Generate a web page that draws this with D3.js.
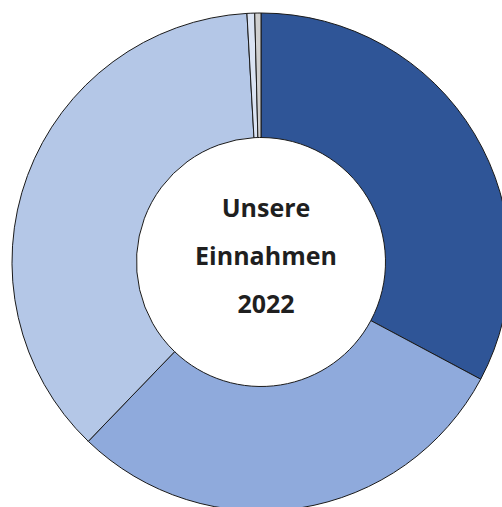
<!DOCTYPE html>
<html>
<head>
<meta charset="utf-8">
<script src="https://cdn.jsdelivr.net/npm/d3@7"></script>
<style>
  body { margin: 0; background: #fff; }
  .slice { stroke: #1a1a1a; stroke-width: 1; }
  .title { font-family: "Open Sans", sans-serif; font-weight: bold; font-size: 25px; fill: #1f1f1f; }
</style>
</head>
<body>
<div id="viz"></div>
<script>
var width = 502;
var height = 507;

// shares of income 2022 (percent), clockwise from 12 o'clock
var categories = ["Anteil 1", "Anteil 2", "Anteil 3", "Anteil 4", "Anteil 5"];
var values = [32.8, 29.4, 36.9, 0.5, 0.4];
var colors = ["#2f5597", "#8faadc", "#b4c7e7", "#dae3f3", "#cfcfcf"];
var titleLines = ["Unsere", "Einnahmen", "2022"];

var cx = 261, cy = 262;
var outerR = 249, innerR = 124.5;

var svg = d3.select("#viz").append("svg")
    .attr("width", width)
    .attr("height", height);

var g = svg.append("g")
    .attr("transform", "translate(" + cx + "," + cy + ")");

var pie = d3.pie()
    .sort(null)
    .value(function(d) { return d.value; });

var arc = d3.arc()
    .innerRadius(innerR)
    .outerRadius(outerR);

var data = categories.map(function(c, i) {
  return { name: c, value: values[i], color: colors[i] };
});

g.selectAll("path.slice")
    .data(pie(data))
  .enter().append("path")
    .attr("class", "slice")
    .attr("d", arc)
    .style("fill", function(d) { return d.data.color; });

// centre text, slightly right of centre like the original
var text = g.append("text")
    .attr("class", "title")
    .attr("text-anchor", "middle");

titleLines.forEach(function(line, i) {
  text.append("tspan")
      .attr("x", 5)
      .attr("y", -45 + i * 48)
      .text(line);
});
</script>
</body>
</html>
